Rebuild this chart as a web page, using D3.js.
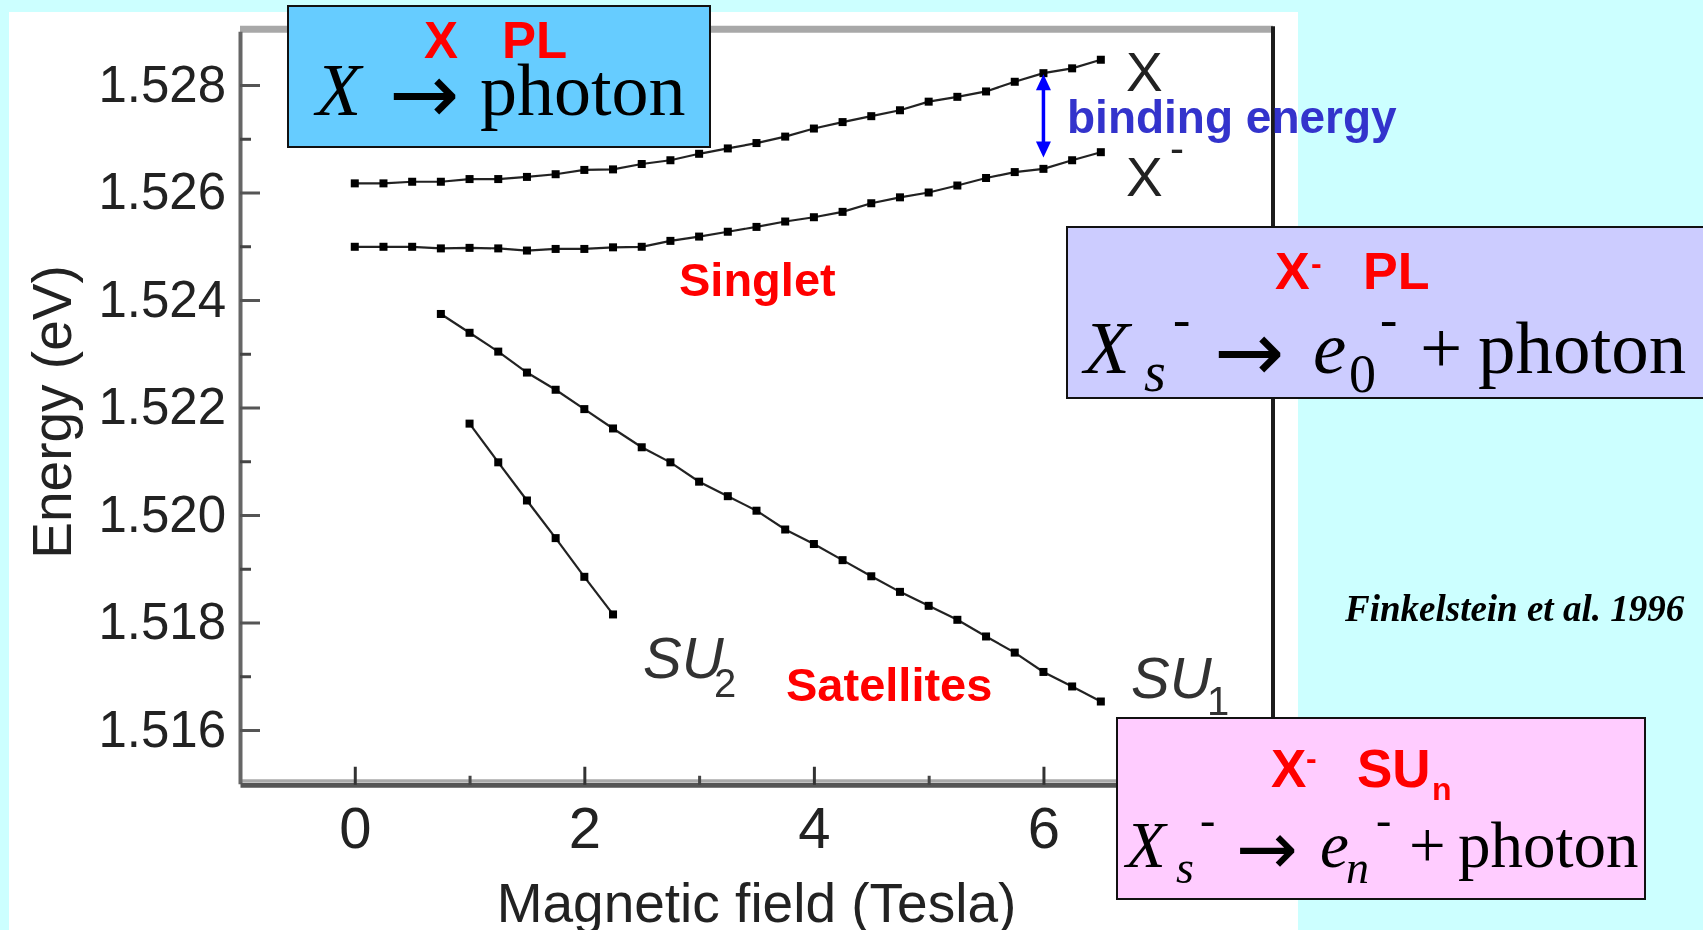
<!DOCTYPE html>
<html>
<head>
<meta charset="utf-8">
<script src="https://cdn.jsdelivr.net/npm/d3@7"></script>
<style>
  html, body { margin: 0; padding: 0; background: #ccffff; overflow: hidden; }
  svg { display: block; }
</style>
</head>
<body>
<svg id="chart" width="1703" height="930"></svg>
<script>
// ---- Data: photoluminescence line energies vs magnetic field ----
const fieldX = [0, 0.25, 0.5, 0.75, 1, 1.25, 1.5, 1.75, 2, 2.25, 2.5, 2.75, 3, 3.25, 3.5,
                3.75, 4, 4.25, 4.5, 4.75, 5, 5.25, 5.5, 5.75, 6, 6.25, 6.5];
const energyX = [1.52617, 1.52617, 1.52620, 1.52620, 1.52625, 1.52625, 1.52629, 1.52634, 1.52642,
                 1.52643, 1.52653, 1.52660, 1.52672, 1.52682, 1.52692, 1.52704, 1.52719, 1.52731,
                 1.52742, 1.52753, 1.52769, 1.52778, 1.52788, 1.52806, 1.52822, 1.52831, 1.52847];
const energyXminus = [1.52499, 1.52499, 1.52499, 1.52496, 1.52497, 1.52496, 1.52492, 1.52495, 1.52495,
                      1.52498, 1.52499, 1.52510, 1.52518, 1.52527, 1.52536, 1.52546, 1.52554, 1.52564,
                      1.52580, 1.52591, 1.52600, 1.52613, 1.52627, 1.52638, 1.52644, 1.52660, 1.52675];
const fieldSU1 = [0.75, 1, 1.25, 1.5, 1.75, 2, 2.25, 2.5, 2.75, 3, 3.25, 3.5, 3.75, 4, 4.25,
                  4.5, 4.75, 5, 5.25, 5.5, 5.75, 6, 6.25, 6.5];
const energySU1 = [1.52374, 1.52339, 1.52304, 1.52265, 1.52233, 1.52197, 1.52161, 1.52126, 1.52098,
                   1.52062, 1.52035, 1.52008, 1.51973, 1.51946, 1.51916, 1.51886, 1.51857, 1.51831,
                   1.51805, 1.51774, 1.51744, 1.51708, 1.51681, 1.51653];
const fieldSU2 = [1, 1.25, 1.5, 1.75, 2, 2.25];
const energySU2 = [1.52170, 1.52098, 1.52027, 1.51957, 1.51885, 1.51815];

// Axis ticks
const yMajorTicks = [1.516, 1.518, 1.520, 1.522, 1.524, 1.526, 1.528];
const yMinorTicks = [1.517, 1.519, 1.521, 1.523, 1.525, 1.527];
const xMajorTicks = [0, 2, 4, 6];
const xMinorTicks = [1, 3, 5];

// Binding-energy arrow (field, upper and lower energy)
const bindingField = 6.0;
const bindingTop = 1.52820;
const bindingBottom = 1.52665;

// ---- Drawing ----
const W = 1703, H = 930;
const svg = d3.select("#chart");
const SANS = "'Liberation Sans', Arial, Helvetica, sans-serif";
const SERIF = "'Liberation Serif', 'Times New Roman', serif";
const ARROW = "'DejaVu Sans', sans-serif";

const defs = svg.append("defs");
defs.append("filter").attr("id", "soft")
  .append("feGaussianBlur").attr("stdDeviation", 0.55);

svg.append("rect").attr("width", W).attr("height", H).attr("fill", "#ccffff");
svg.append("rect").attr("x", 9).attr("y", 12).attr("width", 1289).attr("height", H - 12).attr("fill", "#ffffff");

const x = d3.scaleLinear().domain([-1, 8]).range([240, 1273]);
const y = d3.scaleLinear().domain([1.515, 1.529]).range([783.75, 31.25]);

const plot = svg.append("g").attr("filter", "url(#soft)");

// frame: top and right edges
plot.append("line")
  .attr("x1", x(-1)).attr("x2", x(8))
  .attr("y1", y(1.529) - 2).attr("y2", y(1.529) - 2)
  .attr("stroke", "#a8a8a8").attr("stroke-width", 7);
plot.append("line")
  .attr("x1", x(8)).attr("x2", x(8))
  .attr("y1", y(1.529) - 5).attr("y2", y(1.515) + 2)
  .attr("stroke", "#1a1a1a").attr("stroke-width", 4);

// bottom axis: light band above the dark axis line
plot.append("line")
  .attr("x1", x(-1)).attr("x2", x(8))
  .attr("y1", y(1.515) - 3).attr("y2", y(1.515) - 3)
  .attr("stroke", "#aaaaaa").attr("stroke-width", 3);

// y axis
const gy = plot.append("g").attr("transform", `translate(${x(-1)},0)`)
  .call(d3.axisLeft(y).tickValues(yMajorTicks).tickSize(-20).tickSizeOuter(0)
    .tickPadding(14).tickFormat(d3.format(".3f")));
gy.select(".domain").attr("stroke", "#666").attr("stroke-width", 4);
gy.selectAll(".tick line").attr("stroke", "#555").attr("stroke-width", 3);
gy.selectAll(".tick text").attr("font-size", 51).attr("font-family", SANS).attr("fill", "#222");

const gyMinor = plot.append("g").attr("transform", `translate(${x(-1)},0)`)
  .call(d3.axisLeft(y).tickValues(yMinorTicks).tickSize(-11).tickSizeOuter(0).tickFormat(""));
gyMinor.select(".domain").remove();
gyMinor.selectAll(".tick line").attr("stroke", "#444").attr("stroke-width", 3);

// x axis
const gx = plot.append("g").attr("transform", `translate(0,${y(1.515) + 1})`)
  .call(d3.axisBottom(x).tickValues(xMajorTicks).tickSize(-18).tickSizeOuter(0)
    .tickPadding(22).tickFormat(d3.format("d")));
gx.select(".domain").attr("stroke", "#555").attr("stroke-width", 5);
gx.selectAll(".tick line").attr("stroke", "#333").attr("stroke-width", 3);
gx.selectAll(".tick text").attr("font-size", 58).attr("font-family", SANS).attr("fill", "#222");

const gxMinor = plot.append("g").attr("transform", `translate(0,${y(1.515) + 1})`)
  .call(d3.axisBottom(x).tickValues(xMinorTicks).tickSize(-9).tickSizeOuter(0).tickFormat(""));
gxMinor.select(".domain").remove();
gxMinor.selectAll(".tick line").attr("stroke", "#444").attr("stroke-width", 3);

// axis titles
plot.append("text")
  .attr("x", (x(-1) + x(8)) / 2).attr("y", 922)
  .attr("text-anchor", "middle").attr("font-family", SANS).attr("font-size", 55).attr("fill", "#222")
  .text("Magnetic field (Tesla)");
plot.append("text")
  .attr("transform", "translate(71,412) rotate(-90)")
  .attr("text-anchor", "middle").attr("font-family", SANS).attr("font-size", 55).attr("fill", "#222")
  .text("Energy (eV)");

// data series
const series = [
  { field: fieldX, energy: energyX },
  { field: fieldX, energy: energyXminus },
  { field: fieldSU1, energy: energySU1 },
  { field: fieldSU2, energy: energySU2 }
];
const line = d3.line().x(d => x(d[0])).y(d => y(d[1]));
series.forEach(s => {
  const pts = d3.zip(s.field, s.energy);
  plot.append("path").datum(pts).attr("d", line)
    .attr("fill", "none").attr("stroke", "#222").attr("stroke-width", 2.2);
  plot.append("g").selectAll("rect").data(pts).join("rect")
    .attr("x", d => x(d[0]) - 4).attr("y", d => y(d[1]) - 4)
    .attr("width", 8).attr("height", 8).attr("fill", "#000");
});

// line labels
plot.append("text").attr("x", 1126).attr("y", 91).attr("font-family", SANS).attr("font-size", 55)
  .attr("fill", "#222").text("X");
plot.append("text").attr("x", 1126).attr("y", 196).attr("font-family", SANS).attr("font-size", 55)
  .attr("fill", "#222").text("X");
plot.append("text").attr("x", 1170).attr("y", 163).attr("font-family", SANS).attr("font-size", 42)
  .attr("fill", "#222").text("-");

plot.append("text").attr("x", 643).attr("y", 678).attr("font-family", SANS).attr("font-size", 58)
  .attr("font-style", "italic").attr("fill", "#333").text("SU");
plot.append("text").attr("x", 714).attr("y", 697).attr("font-family", SANS).attr("font-size", 40)
  .attr("fill", "#333").text("2");
plot.append("text").attr("x", 1131).attr("y", 698).attr("font-family", SANS).attr("font-size", 58)
  .attr("font-style", "italic").attr("fill", "#333").text("SU");
plot.append("text").attr("x", 1207).attr("y", 715).attr("font-family", SANS).attr("font-size", 40)
  .attr("fill", "#333").text("1");

// coloured annotations
svg.append("text").attr("x", 679).attr("y", 296).attr("font-family", SANS).attr("font-weight", "bold")
  .attr("font-size", 47).attr("fill", "#ff0000").text("Singlet");
svg.append("text").attr("x", 786).attr("y", 701).attr("font-family", SANS).attr("font-weight", "bold")
  .attr("font-size", 47).attr("fill", "#ff0000").text("Satellites");
svg.append("text").attr("x", 1067).attr("y", 133).attr("font-family", SANS).attr("font-weight", "bold")
  .attr("font-size", 46).attr("fill", "#3333cc").text("binding energy");

// binding-energy double arrow
const ax = x(bindingField), ay1 = y(bindingTop), ay2 = y(bindingBottom);
svg.append("line").attr("x1", ax).attr("x2", ax).attr("y1", ay1 + 10).attr("y2", ay2 - 10)
  .attr("stroke", "#0000ff").attr("stroke-width", 3.5);
svg.append("path").attr("d", `M${ax},${ay1} L${ax - 7.5},${ay1 + 16} L${ax + 7.5},${ay1 + 16} Z`).attr("fill", "#0000ff");
svg.append("path").attr("d", `M${ax},${ay2} L${ax - 7.5},${ay2 - 16} L${ax + 7.5},${ay2 - 16} Z`).attr("fill", "#0000ff");

svg.append("text").attr("x", 1345).attr("y", 621).attr("font-family", SERIF).attr("font-weight", "bold")
  .attr("font-style", "italic").attr("font-size", 37).attr("fill", "#000").text("Finkelstein et al. 1996");

// ---- Equation boxes ----
function box(bx, by, bw, bh, fill) {
  svg.append("rect").attr("x", bx).attr("y", by).attr("width", bw).attr("height", bh)
    .attr("fill", fill).attr("stroke", "#111").attr("stroke-width", 2);
}
function txt(tx, ty, s, size, opts = {}) {
  svg.append("text").attr("x", tx).attr("y", ty)
    .attr("font-family", opts.family || (opts.serif ? SERIF : SANS))
    .attr("font-size", size)
    .attr("font-weight", opts.bold ? "bold" : "normal")
    .attr("font-style", opts.italic ? "italic" : "normal")
    .attr("fill", opts.fill || "#000")
    .text(s);
}
const RED = { bold: true, fill: "#ff0000" };
const ARR = { family: ARROW };

// X PL
box(288, 6, 422, 141, "#66ccff");
txt(424, 58, "X", 51, RED);
txt(502, 58, "PL", 51, RED);
txt(316, 115, "X", 74, { serif: true, italic: true });
txt(389, 123, "\u2192", 84, ARR);
txt(480, 115, "photon", 74, { serif: true });

// X- PL
box(1067, 227, 640, 171, "#ccccff");
txt(1275, 289, "X", 52, RED);
txt(1311, 274, "-", 32, RED);
txt(1363, 289, "PL", 52, RED);
txt(1084, 373, "X", 75, { serif: true, italic: true });
txt(1144, 391, "s", 56, { serif: true, italic: true });
txt(1173, 337, "-", 52, { serif: true });
txt(1214, 381, "\u2192", 84, ARR);
txt(1313, 373, "e", 75, { serif: true, italic: true });
txt(1349, 392, "0", 54, { serif: true });
txt(1380, 337, "-", 52, { serif: true });
txt(1420, 373, "+", 75, { serif: true });
txt(1478, 373, "photon", 75, { serif: true });

// X- SUn
box(1117, 718, 528, 181, "#ffccff");
txt(1271, 787, "X", 53, RED);
txt(1306, 769, "-", 32, RED);
txt(1357, 787, "SU", 53, RED);
txt(1432, 800, "n", 32, RED);
txt(1126, 867, "X", 65, { serif: true, italic: true });
txt(1176, 883, "s", 46, { serif: true, italic: true });
txt(1200, 835, "-", 46, { serif: true });
txt(1236, 874, "\u2192", 74, ARR);
txt(1320, 867, "e", 65, { serif: true, italic: true });
txt(1346, 883, "n", 46, { serif: true, italic: true });
txt(1376, 835, "-", 46, { serif: true });
txt(1409, 867, "+", 65, { serif: true });
txt(1458, 867, "photon", 65, { serif: true });
</script>
</body>
</html>
